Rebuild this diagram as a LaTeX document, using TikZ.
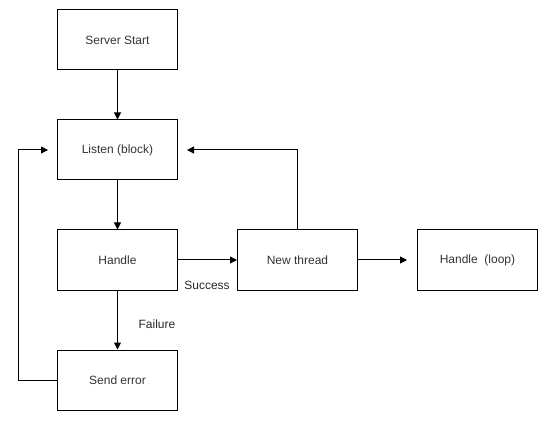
\documentclass[tikz,border=0pt]{standalone}
\usepackage{fontspec}
\setmainfont{Liberation Sans}
\usetikzlibrary{arrows.meta}
\begin{document}
\begin{tikzpicture}[x=1pt,y=-1pt,
  box/.style={draw, line width=1pt, minimum width=120pt, minimum height=60pt, inner sep=0pt, font=\fontsize{12}{14}\selectfont, text=black!80},
  conn/.style={line width=1pt, -{Triangle[length=7pt,width=7pt]}},
  lbl/.style={font=\fontsize{12}{14}\selectfont, text=black!85, inner sep=0pt}]
\useasboundingbox (0,0) rectangle (549,422);
\node[box] (start) at (117.5,40) {Server Start};
\node[box] (listen) at (117.5,150) {Listen (block)};
\node[box] (handle) at (117.5,260) {Handle};
\node[box] (err) at (117.5,380) {Send error};
\node[box] (thread) at (297.5,260) {New thread};
\node[box] (loop) at (477.5,260) {Handle\ \ (loop)};
\coordinate (lin) at (48,150);
\coordinate (rin) at (187,150);
\coordinate (lpin) at (407,260);
\draw[conn] (start) -- (listen);
\draw[conn] (listen) -- (handle);
\draw[conn] (handle) -- (err);
\node[lbl] (fail) at (157,324) {Failure};
\draw[conn] (handle) -- (thread);
\node[lbl] (succ) at (207,285) {Success};
\draw[conn] (thread) -- (lpin);
\draw[conn] (err.west) -- (18,380) |- (lin);
\draw[conn] (thread.north) |- (rin);
\end{tikzpicture}
\end{document}
